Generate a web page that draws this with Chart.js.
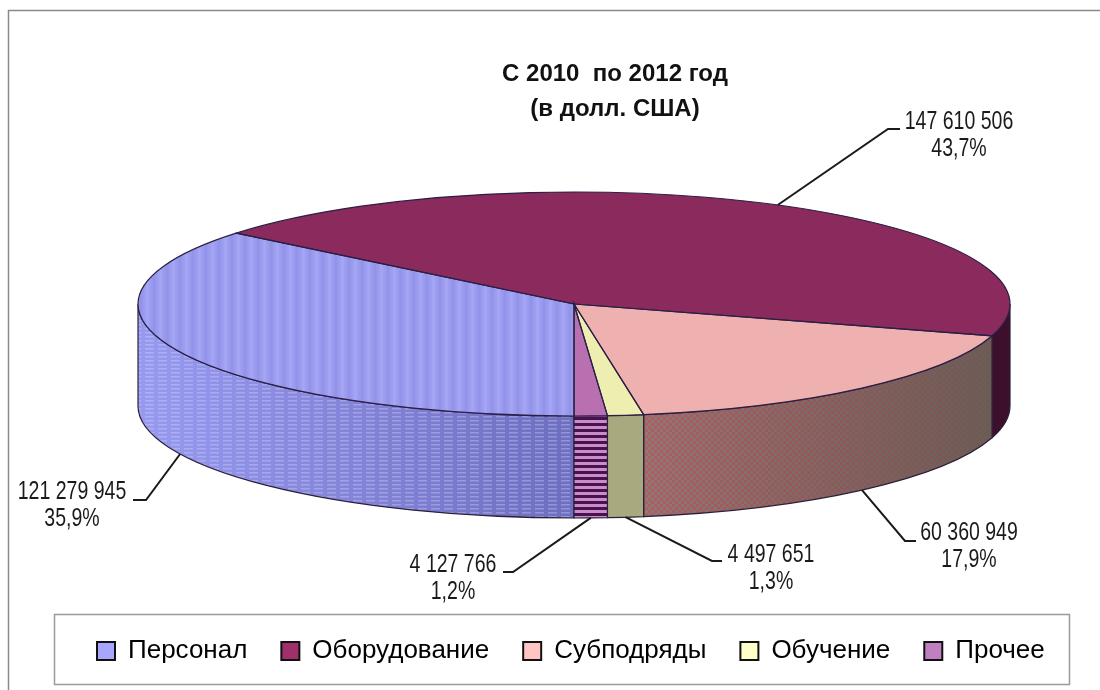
<!DOCTYPE html>
<html lang="ru">
<head>
<meta charset="UTF-8">
<title>С 2010 по 2012 год</title>
<script src="https://cdn.jsdelivr.net/npm/chart.js"></script>
<style>
    html, body { margin: 0; padding: 0; background: #fff; }
    canvas { display: block; }
</style>
</head>
<body>
<canvas id="pie3d" width="1100" height="690"></canvas>
<script>
const titleLines = ['С 2010  по 2012 год', '(в долл. США)'];
const categories = ['Персонал', 'Оборудование', 'Субподряды', 'Обучение', 'Прочее'];
const amounts = [121279945, 147610506, 60360949, 4497651, 4127766];
const amountLabels = ['121 279 945', '147 610 506', '60 360 949', '4 497 651', '4 127 766'];
const shareLabels = ['35,9%', '43,7%', '17,9%', '1,3%', '1,2%'];
const legendColors = ['#A6A6FF', '#A0306A', '#FFC4C4', '#FFFFC8', '#C080C0'];

// projection of the flat pie
const PIE_X = 574, PIE_Y = 304, PIE_R = 436, TILT = 112 / 436, DEPTH = 102;
const FONT = '"Liberation Sans", Arial, sans-serif';

// elbow and text position for each data label, in the order of categories
const labelElbowA = [[146, 500], [888, 129], [905, 541], [712, 561], [513, 572]];
const labelElbowB = [[133, 500], [900, 129], [916, 541], [722, 561], [503, 572]];
const labelTextX = [72, 959, 969, 771, 453];
const labelTextY = [492, 122, 533, 555, 565];

function tile(w, h, draw) {
    const c = document.createElement('canvas');
    c.width = w; c.height = h;
    draw(c.getContext('2d'));
    return c;
}
const tmp = document.getElementById('pie3d').getContext('2d');

const topStripes = tmp.createPattern(tile(13, 1, g => {
    const lg = g.createLinearGradient(0, 0, 13, 0);
    lg.addColorStop(0, '#9292E8');
    lg.addColorStop(0.5, '#A6A6F5');
    lg.addColorStop(1, '#9292E8');
    g.fillStyle = lg;
    g.fillRect(0, 0, 13, 1);
}), 'repeat');
const dashes = tmp.createPattern(tile(13, 4, g => {
    g.fillStyle = 'rgba(214,218,255,0.35)';
    g.fillRect(2, 0, 9, 1.5);
}), 'repeat');
const bars = tmp.createPattern(tile(2, 6, g => {
    g.fillStyle = '#C88EC8';
    g.fillRect(0, 0, 2, 6);
    g.fillStyle = '#4A1050';
    g.fillRect(0, 3, 2, 3);
}), 'repeat');
const checker = tmp.createPattern(tile(6, 6, g => {
    g.fillStyle = '#C4606E';
    g.fillRect(0, 0, 3, 3);
    g.fillRect(3, 3, 3, 3);
    g.fillStyle = '#93897E';
    g.fillRect(3, 0, 3, 3);
    g.fillRect(0, 3, 3, 3);
}), 'repeat');

const topFills = [topStripes, '#8B2A5C', '#EFB0B0', '#EEEEB0', '#B870B0'];

// layers of paint for the side wall of each slice
function wallLayers(ctx, i, x0, x1) {
    const lg = (from, to) => {
        const g = ctx.createLinearGradient(Math.min(x0, x1), 0, Math.max(x0, x1), 0);
        g.addColorStop(0, from);
        g.addColorStop(1, to);
        return g;
    };
    if (i === 0) return [lg('#989AF0', '#6E6EC0'), dashes];
    if (i === 1) return ['#3C0F2C'];
    if (i === 2) return [checker, lg('rgba(110,70,70,0.2)', 'rgba(100,88,82,0.88)')];
    if (i === 3) return ['#A9A97F'];
    return [bars];
}

const pie3dPlugin = {
    id: 'pie3d',
    afterLayout(chart) {
        // title and legend do not sit on the pie's axis
        const t = chart.titleBlock, l = chart.legend;
        t.left += 65; t.right += 65;
        const w = l.width;
        l.left = 63; l.right = 63 + w;
        l.top = 604; l.bottom = 604 + l.height;
    },
    beforeDraw(chart) {
        const ctx = chart.ctx;
        ctx.save();
        ctx.fillStyle = '#fff';
        ctx.fillRect(0, 0, chart.width, chart.height);
        ctx.strokeStyle = '#8A8A8A';
        ctx.lineWidth = 1.5;
        ctx.beginPath();
        ctx.moveTo(8.5, 690);
        ctx.lineTo(8.5, 10.5);
        ctx.lineTo(1100, 10.5);
        ctx.stroke();
        ctx.strokeStyle = '#9A9A9A';
        ctx.strokeRect(54.5, 614.5, 1015, 70);
        ctx.restore();
    },
    beforeDatasetsDraw(chart) {
        const ctx = chart.ctx;
        const arcs = chart.getDatasetMeta(0).data;
        const rx = arcs[0].outerRadius, ry = rx * TILT;
        ctx.save();
        arcs.forEach((arc, i) => {
            [[0, Math.PI], [2 * Math.PI, 3 * Math.PI]].forEach(([lo, hi]) => {
                const a = Math.max(arc.startAngle, lo), b = Math.min(arc.endAngle, hi);
                if (b <= a) return;
                const x0 = PIE_X + rx * Math.cos(a), x1 = PIE_X + rx * Math.cos(b);
                const outline = () => {
                    ctx.beginPath();
                    ctx.ellipse(PIE_X, PIE_Y, rx, ry, 0, a, b);
                    ctx.ellipse(PIE_X, PIE_Y + DEPTH, rx, ry, 0, b, a, true);
                    ctx.closePath();
                };
                wallLayers(ctx, i, x0, x1).forEach(fill => {
                    outline();
                    ctx.fillStyle = fill;
                    ctx.fill();
                });
                outline();
                ctx.strokeStyle = '#2B1F3A';
                ctx.lineWidth = 1.2;
                ctx.stroke();
            });
        });
        ctx.restore();
        // the library draws the top face through this squashed transform
        const first = arcs[0];
        ctx.save();
        ctx.translate(PIE_X, PIE_Y);
        ctx.scale(1, TILT);
        ctx.translate(-first.x, -first.y);
    },
    afterDatasetsDraw(chart) {
        const ctx = chart.ctx;
        ctx.restore();
        const arcs = chart.getDatasetMeta(0).data;
        const rx = arcs[0].outerRadius, ry = rx * TILT;
        ctx.save();
        ctx.strokeStyle = '#2B1F45';
        ctx.lineWidth = 1.2;
        arcs.forEach(arc => {
            ctx.beginPath();
            ctx.moveTo(PIE_X, PIE_Y);
            ctx.ellipse(PIE_X, PIE_Y, rx, ry, 0, arc.startAngle, arc.endAngle);
            ctx.closePath();
            ctx.stroke();
        });
        // leader lines and data labels (the original text is narrow, so squeeze it)
        const narrowText = (s, x, y) => {
            ctx.save();
            ctx.translate(x, y);
            ctx.scale(0.78, 1);
            ctx.fillText(s, 0, 0);
            ctx.restore();
        };
        arcs.forEach((arc, i) => {
            const mid = (arc.startAngle + arc.endAngle) / 2;
            const sx = PIE_X + rx * Math.cos(mid);
            let sy = PIE_Y + ry * Math.sin(mid);
            if (Math.sin(mid) > 0) sy += DEPTH;
            ctx.beginPath();
            ctx.moveTo(sx, sy);
            ctx.lineTo(labelElbowA[i][0], labelElbowA[i][1]);
            ctx.lineTo(labelElbowB[i][0], labelElbowB[i][1]);
            ctx.strokeStyle = '#1A1A1A';
            ctx.lineWidth = 2;
            ctx.stroke();
            ctx.fillStyle = '#1A1A1A';
            ctx.font = '25px ' + FONT;
            ctx.textAlign = 'center';
            ctx.textBaseline = 'middle';
            narrowText(amountLabels[i], labelTextX[i], labelTextY[i]);
            narrowText(shareLabels[i], labelTextX[i], labelTextY[i] + 27);
        });
        ctx.restore();
    }
};

new Chart(document.getElementById('pie3d'), {
    type: 'pie',
    data: {
        labels: categories,
        datasets: [{
            data: amounts,
            backgroundColor: topFills,
            borderWidth: 0,
            clip: false
        }]
    },
    options: {
        responsive: false,
        animation: false,
        events: [],
        rotation: 180,
        radius: PIE_R,
        plugins: {
            title: {
                display: true,
                text: titleLines,
                color: '#111',
                font: { family: FONT, size: 24, weight: 'bold', lineHeight: 1.46 },
                padding: { top: 57, bottom: 0 }
            },
            legend: {
                display: true,
                position: 'bottom',
                align: 'start',
                labels: {
                    color: '#111',
                    font: { family: FONT, size: 26 },
                    boxWidth: 18,
                    boxHeight: 18,
                    padding: 34,
                    generateLabels: () => categories.map((c, i) => ({
                        text: c,
                        fillStyle: legendColors[i],
                        strokeStyle: '#111',
                        lineWidth: 2,
                        index: i
                    }))
                }
            },
            tooltip: { enabled: false }
        }
    },
    plugins: [pie3dPlugin]
});
</script>
</body>
</html>
